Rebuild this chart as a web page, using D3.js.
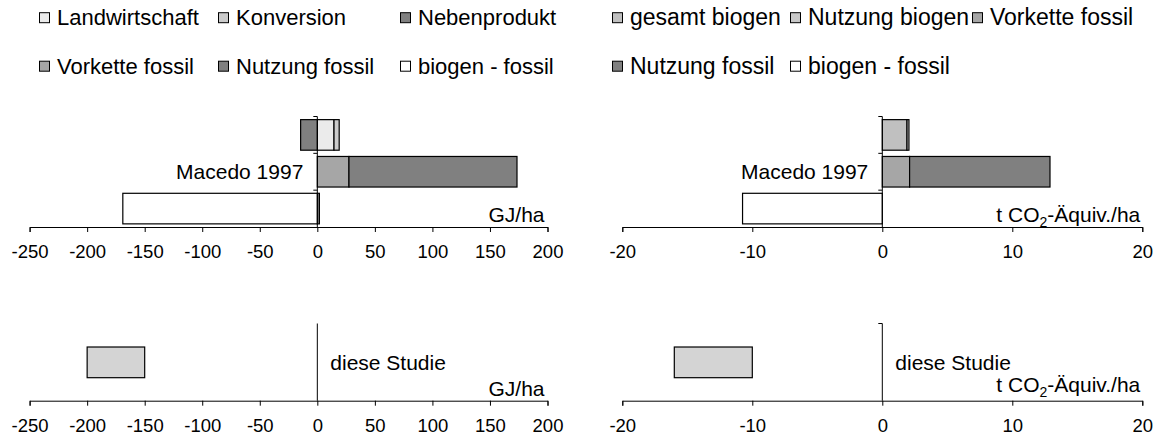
<!DOCTYPE html>
<html>
<head>
<meta charset="utf-8">
<script src="https://cdn.jsdelivr.net/npm/d3@7"></script>
<style>
  html, body { margin: 0; padding: 0; background: #fff; }
  svg text { font-family: Arial, "Liberation Sans", sans-serif; fill: #000; }
</style>
</head>
<body>
<svg id="chart" width="1159" height="443"></svg>
<script>
// ---------------- DATA ----------------
const rowKeys = ["biogen", "Macedo 1997", "differenz"];
const rowLabels = ["", "Macedo 1997", ""];

const energyTicks = [-250, -200, -150, -100, -50, 0, 50, 100, 150, 200];
const ghgTicks = [-20, -10, 0, 10, 20];

const energySeries = ["Landwirtschaft", "Konversion", "Nebenprodukt", "Vorkette fossil", "Nutzung fossil", "biogen - fossil"];
const energyLandwirtschaft = [14.5, 0, 0];
const energyKonversion     = [4.5, 0, 0];
const energyNebenprodukt   = [-14.5, 0, 0];
const energyVorkette       = [0, 27.5, 0];
const energyNutzungFossil  = [0, 146, 1.8];
const energyBiogenFossil   = [0, 0, -169];

const ghgSeries = ["gesamt biogen", "Nutzung biogen", "Vorkette fossil", "Nutzung fossil", "biogen - fossil"];
const ghgGesamtBiogen  = [1.9, 0, 0];
const ghgNutzungBiogen = [0.15, 0, 0];
const ghgVorkette      = [0, 2.1, 0];
const ghgNutzungFossil = [0, 10.8, 0];
const ghgBiogenFossil  = [0, 0, -10.75];

const studyLabel = "diese Studie";
const studyEnergyRange = [-200, -150];
const studyGhgRange = [-16, -10];

const energyUnit = "GJ/ha";

// ---------------- STYLE ----------------
const colors = {
  "Landwirtschaft": "#ebebeb",
  "Konversion": "#cbcbcb",
  "Nebenprodukt": "#808080",
  "Vorkette fossil": "#a6a6a6",
  "Nutzung fossil": "#808080",
  "biogen - fossil": "#ffffff",
  "gesamt biogen": "#c0c0c0",
  "Nutzung biogen": "#c8c8c8"
};
const studyColor = "#d4d4d4";
const FONT = 21, TICKFONT = 18.5;

const svg = d3.select("#chart");

function buildTable(series, arrays) {
  return rowKeys.map((k, i) => {
    const o = { row: k };
    series.forEach((s, j) => o[s] = arrays[j][i]);
    return o;
  });
}

function drawAxisX(g, x, ticks, yPos) {
  const ax = d3.axisBottom(x).tickValues(ticks).tickSize(5).tickPadding(13)
    .tickFormat(d3.format("d"));
  const a = g.append("g").attr("transform", `translate(0,${yPos})`).call(ax);
  a.select(".domain").attr("stroke", "#000").attr("stroke-width", 1);
  a.selectAll(".tick line").attr("stroke", "#000");
  a.selectAll(".tick text").attr("font-size", TICKFONT).attr("fill", "#000")
    .style("font-family", 'Arial, "Liberation Sans", sans-serif')
    .text(d => d < 0 ? "-" + Math.abs(d) : d);
}

function drawTop(series, arrays, domain, range, ticks, unitNode) {
  const g = svg.append("g");
  const x = d3.scaleLinear().domain(domain).range(range);
  const yBound = d3.scaleBand().domain(rowKeys).range([116.5, 227]).padding(0);
  const y = d3.scaleBand().domain(rowKeys).range([116.5, 227]).paddingInner(0.17).paddingOuter(0.085);
  const table = buildTable(series, arrays);
  const stacked = d3.stack().keys(series).offset(d3.stackOffsetDiverging)(table);

  stacked.forEach(layer => {
    g.selectAll(null).data(layer.filter(d => Math.abs(d[1] - d[0]) > 1e-9))
      .enter().append("rect")
      .attr("x", d => x(Math.min(d[0], d[1])))
      .attr("width", d => Math.abs(x(d[1]) - x(d[0])))
      .attr("y", d => y(d.data.row))
      .attr("height", y.bandwidth())
      .attr("fill", colors[layer.key])
      .attr("stroke", "#000").attr("stroke-width", 1.2);
  });

  drawAxisX(g, x, ticks, 227);

  const x0 = x(0);
  g.append("line").attr("x1", x0).attr("x2", x0).attr("y1", yBound.range()[0]).attr("y2", 227)
    .attr("stroke", "#000").attr("stroke-width", 1);
  rowKeys.forEach(k => {
    g.append("line").attr("x1", x0 - 4).attr("x2", x0).attr("y1", yBound(k)).attr("y2", yBound(k))
      .attr("stroke", "#000");
  });
  rowKeys.forEach((k, i) => {
    if (!rowLabels[i]) return;
    g.append("text").attr("x", x0 - 14).attr("y", y(k) + y.bandwidth() / 2 + 7.5)
      .attr("text-anchor", "end").attr("font-size", FONT).text(rowLabels[i]);
  });
  unitNode(g, range[1], 221.5);
  return x;
}

function drawBottom(range, domain, ticks, rangeVals, unitNode, topTick) {
  const g = svg.append("g");
  const x = d3.scaleLinear().domain(domain).range(range);
  const y = d3.scaleBand().domain([studyLabel]).range([324, 400.7]).paddingInner(0.6).paddingOuter(0.3);
  g.append("rect")
    .attr("x", x(rangeVals[0])).attr("width", x(rangeVals[1]) - x(rangeVals[0]))
    .attr("y", y(studyLabel)).attr("height", y.bandwidth())
    .attr("fill", studyColor).attr("stroke", "#000").attr("stroke-width", 1.2);
  drawAxisX(g, x, ticks, 400.7);
  const x0 = x(0);
  g.append("line").attr("x1", x0).attr("x2", x0).attr("y1", 323.5).attr("y2", 400.7)
    .attr("stroke", "#000");
  if (topTick) g.append("line").attr("x1", x0 - 4).attr("x2", x0).attr("y1", 323.5).attr("y2", 323.5).attr("stroke", "#000");
  g.append("text").attr("x", x0 + 13).attr("y", 369.5).attr("font-size", FONT).text(studyLabel);
  unitNode(g, range[1], topTick ? 391.5 : 395.5);
}

function unitGJ(g, xr, yb) {
  g.append("text").attr("x", xr - 3).attr("y", yb).attr("text-anchor", "end")
    .attr("font-size", FONT).text(energyUnit);
}
function unitCO2(g, xr, yb) {
  const t = g.append("text").attr("x", xr - 2).attr("y", yb).attr("text-anchor", "end")
    .attr("font-size", FONT);
  t.append("tspan").text("t CO");
  t.append("tspan").attr("font-size", 14).attr("dy", 5).text("2");
  t.append("tspan").attr("dy", -5).text("-Äquiv./ha");
}

const energyArrays = [energyLandwirtschaft, energyKonversion, energyNebenprodukt, energyVorkette, energyNutzungFossil, energyBiogenFossil];
const ghgArrays = [ghgGesamtBiogen, ghgNutzungBiogen, ghgVorkette, ghgNutzungFossil, ghgBiogenFossil];

const leftRange = [29.6, 547.5];
const rightRange = [622.3, 1142.3];
const energyDomain = [energyTicks[0], energyTicks[energyTicks.length - 1]];
const ghgDomain = [ghgTicks[0], ghgTicks[ghgTicks.length - 1]];

drawTop(energySeries, energyArrays, energyDomain, leftRange, energyTicks, unitGJ);
drawTop(ghgSeries, ghgArrays, ghgDomain, rightRange, ghgTicks, unitCO2);
drawBottom(leftRange, energyDomain, energyTicks, studyEnergyRange, unitGJ, false);
drawBottom(rightRange, ghgDomain, ghgTicks, studyGhgRange, unitCO2, true);

// ---------------- LEGENDS ----------------
function legend(items, positions, fs) {
  const g = svg.append("g");
  items.forEach((name, i) => {
    const p = positions[i];
    g.append("rect").attr("x", p[0] + 0.5).attr("y", p[1] - 12.3).attr("width", 10).attr("height", 10)
      .attr("fill", colors[name]).attr("stroke", "#000").attr("stroke-width", 1);
    g.append("text").attr("x", p[0] + 18).attr("y", p[1]).attr("font-size", fs).text(name);
  });
}
legend(energySeries, [[39, 25], [218, 25], [400, 25], [39, 73.5], [218, 73.5], [400, 73.5]], 22);
legend(ghgSeries, [[612, 25], [790, 25], [972, 25], [612, 73.5], [790, 73.5]], 23);
</script>
</body>
</html>
